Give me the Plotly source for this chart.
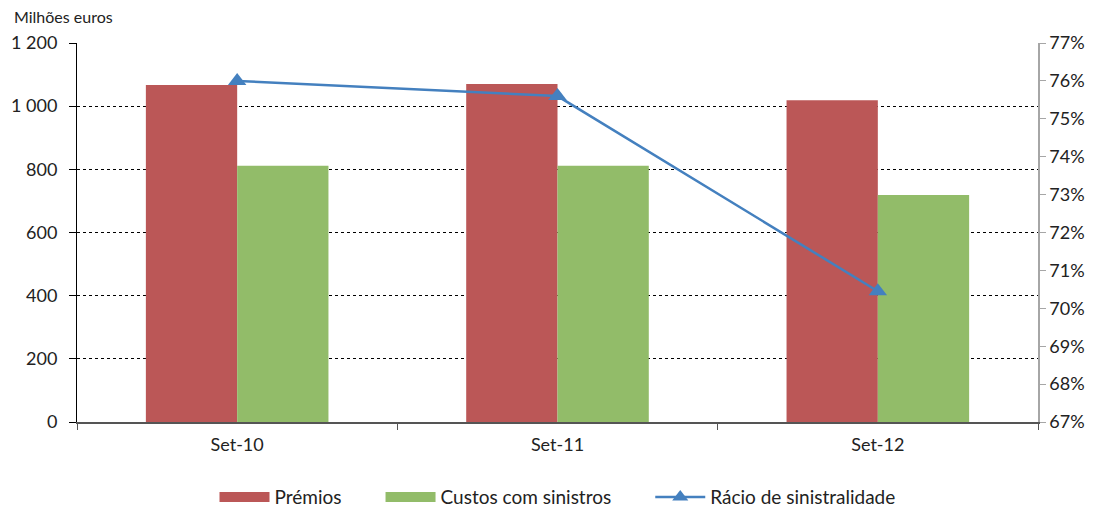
import plotly.graph_objects as go

categories = ["Set-10", "Set-11", "Set-12"]
premios = [1067, 1070, 1019]
custos = [811, 811, 719]
racio = [76.0, 75.6, 70.45]

left_ticks = [0, 200, 400, 600, 800, 1000, 1200]
left_labels = ["0", "200", "400", "600", "800", "1 000", "1 200"]
right_ticks = list(range(67, 78))
right_labels = [f"{v}%" for v in right_ticks]

RED = "#BB5757"
GREEN = "#92BC69"
BLUE = "#4480BF"
FONT = "Lato"
PAD = "\u00a0" * 7

fig = go.Figure()
fig.add_trace(go.Bar(x=categories, y=premios, name="Prémios", showlegend=False,
                     marker=dict(color=RED, line=dict(width=0)), yaxis="y"))
fig.add_trace(go.Bar(x=categories, y=custos, name="Custos com sinistros", showlegend=False,
                     marker=dict(color=GREEN, line=dict(width=0)), yaxis="y"))
fig.add_trace(go.Scatter(x=categories, y=racio, name="Rácio de sinistralidade",
                         mode="lines+markers", yaxis="y2", showlegend=False,
                         line=dict(color=BLUE, width=2.5),
                         marker=dict(symbol="triangle-up", size=16, color=BLUE)))
# legend-only entries (wide swatches like the reference)
fig.add_trace(go.Scatter(x=[None], y=[None], name="Prémios" + PAD, mode="lines",
                         line=dict(color=RED, width=12), yaxis="y"))
fig.add_trace(go.Scatter(x=[None], y=[None], name="Custos com sinistros" + PAD, mode="lines",
                         line=dict(color=GREEN, width=12), yaxis="y"))
fig.add_trace(go.Scatter(x=[None], y=[None], name="Rácio de sinistralidade",
                         mode="lines+markers", yaxis="y2",
                         line=dict(color=BLUE, width=2.5),
                         marker=dict(symbol="triangle-up", size=14, color=BLUE)))

fig.update_layout(
    width=1098, height=509,
    margin=dict(l=77, r=60, t=43, b=87, autoexpand=False),
    paper_bgcolor="white", plot_bgcolor="white",
    barmode="group", bargap=0.43, bargroupgap=0,
    font=dict(family=FONT, size=18, color="#222222"),
    showlegend=True,
    legend=dict(orientation="h", x=0.5, xanchor="center", y=-0.198, yanchor="middle",
                font=dict(size=19, color="#222222"), itemwidth=50, traceorder="normal"),
    xaxis=dict(type="category", showline=True, linecolor="#555555", linewidth=1.5,
               ticks="outside", tickson="boundaries", ticklen=6, tickcolor="#555555",
               showgrid=False, tickfont=dict(size=18), ticklabelstandoff=6),
    yaxis=dict(range=[0, 1200], tickvals=left_ticks, ticktext=left_labels,
               showline=True, linecolor="#000000", linewidth=1,
               ticks="outside", ticklen=7, tickcolor="#000000",
               showgrid=True, gridcolor="#000000", griddash="dot", gridwidth=1,
               zeroline=False, tickfont=dict(size=18), ticklabelstandoff=8),
    yaxis2=dict(range=[67, 77], tickvals=right_ticks, ticktext=right_labels,
                overlaying="y", side="right", showline=True, linecolor="#A6A6A6",
                linewidth=1.5, ticks="outside", ticklen=6, tickcolor="#A6A6A6",
                showgrid=False, zeroline=False, tickfont=dict(size=18)),
    annotations=[dict(text="Milhões euros", xref="paper", yref="paper",
                      x=-0.068, y=1.04, xanchor="left", yanchor="bottom",
                      showarrow=False, font=dict(size=16, color="#222222"))],
)

fig.write_html("out.html")
